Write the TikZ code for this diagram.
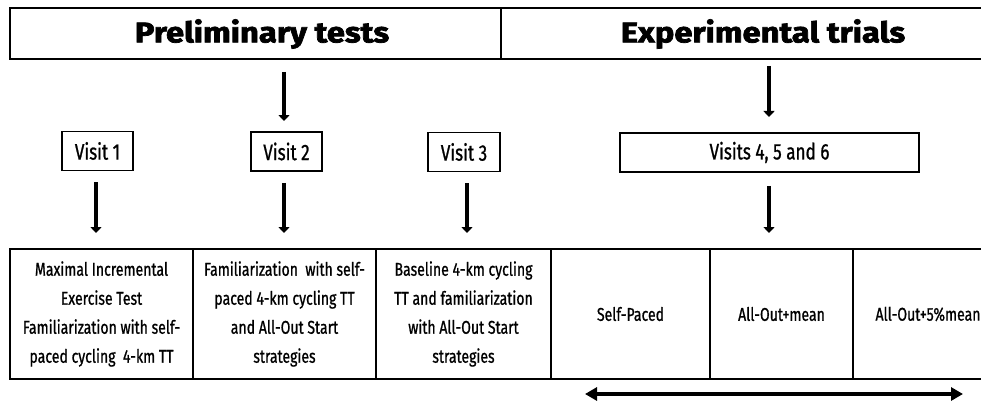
\documentclass[tikz,border=0pt]{standalone}
\usepackage{fontspec}
\setmainfont{Fira Sans}[FakeStretch=0.76, FakeBold=0.9]
\newfontfamily\titlefont{Fira Sans}[FakeStretch=1.15, BoldFeatures={FakeBold=2.5}]
\usetikzlibrary{arrows.meta}
\begin{document}
\begin{tikzpicture}[x=1pt,y=-1pt,
  frame/.style={draw, line width=1.6pt},
  visitbox/.style={frame, minimum height=39pt, inner sep=0pt, font=\fontsize{22.5}{26}\selectfont},
  cell/.style={frame, minimum height=130pt, inner sep=0pt, align=center, font=\fontsize{18.5}{29}\selectfont},
  title/.style={font=\titlefont\bfseries\fontsize{28.5}{32}\selectfont, inner sep=0pt},
  downarrow/.style={line width=4pt, -{Triangle[length=6pt,width=11pt]}},
  botharrow/.style={line width=3.5pt, {Triangle[length=12pt,width=13pt]}-{Triangle[length=12pt,width=13pt]}}
]
\useasboundingbox (0,0) rectangle (981,401);
\clip (0,0) rectangle (981,401);
% banner
\node[frame, minimum width=491pt, minimum height=51pt, inner sep=0pt] (bl) at (255.5,33.5) {};
\node[frame, minimum width=510pt, minimum height=51pt, inner sep=0pt] (br) at (756,33.5) {};
\node[title] (tl) at (262,34) {Preliminary tests};
\node[title] (tr) at (763,34) {Experimental trials};
\coordinate (al) at (284,72);
\coordinate (ar) at (769,66);
% visits
\node[visitbox, minimum width=71pt] (v1) at (97.5,151) {Visit 1};
\node[visitbox, minimum width=71pt] (v2) at (286.5,151.5) {Visit 2};
\node[visitbox, minimum width=72pt] (v3) at (464,152) {Visit 3};
\node[visitbox, minimum width=299pt] (v4) at (769.5,152.5) {Visits 4, 5 and 6};
% cells
\node[cell, minimum width=183pt] (c1) at (101.5,314) {Maximal Incremental\\Exercise Test\\Familiarization with self-\\paced cycling\ \ 4-km TT};
\node[cell, minimum width=183pt] (c2) at (284.5,314) {Familiarization\ \ with self-\\paced 4-km cycling TT\\and All-Out Start\\strategies};
\node[cell, minimum width=175pt] (c3) at (463.5,314) {Baseline 4-km cycling\\TT and familiarization\\with All-Out Start\\strategies};
\node[cell, minimum width=159pt] (c4) at (630.5,314) {Self-Paced};
\node[cell, minimum width=143pt] (c5) at (781.5,314) {All-Out+mean};
\node[cell, minimum width=150pt] (c6) at (928,314) {All-Out+5\%mean};
% arrows
\draw[downarrow] (al) -- (284,121);
\draw[downarrow] (ar) -- (769,117);
\draw[downarrow] ([yshift=-11pt]v1.south -| 96,0) -- (96,233);
\draw[downarrow] ([yshift=-11pt]v2.south -| 284,0) -- (284,233);
\draw[downarrow] ([yshift=-11pt]v3.south -| 467,0) -- (467,233);
\draw[downarrow] ([yshift=-13pt]v4.south -| 769,0) -- (769,233);
\coordinate (dl) at (585,394);
\coordinate (dr) at (963,394);
\draw[botharrow] (dl) -- (dr);
\end{tikzpicture}
\end{document}
